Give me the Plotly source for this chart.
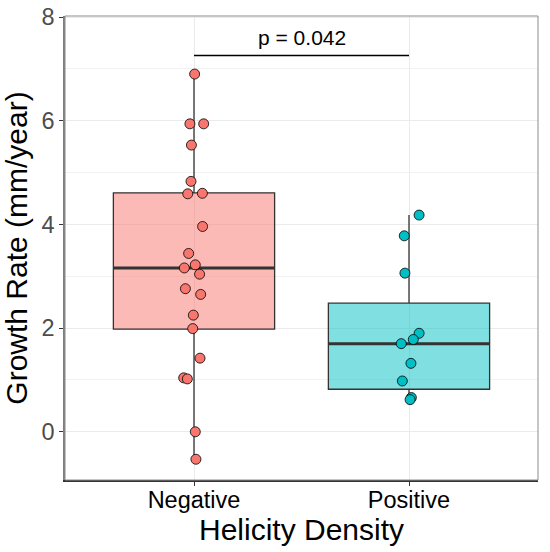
import plotly.graph_objects as go

groups = ["Negative", "Positive"]
group_pos = [1, 2]
fill_colors = ["rgba(248,118,109,0.5)", "rgba(0,191,196,0.5)"]
point_colors = ["#F8766D", "#00BFC4"]

# box statistics
q1 = [1.98, 0.82]
median = [3.16, 1.70]
q3 = [4.61, 2.48]
lower = [-0.53, 0.62]
upper = [6.90, 4.18]

# jittered points (value, horizontal jitter)
neg_values = [6.90, 5.94, 5.94, 5.53, 4.83, 4.59, 4.60, 3.96, 3.44, 3.16, 3.22,
              3.04, 2.76, 2.65, 2.25, 1.99, 1.42, 1.04, 1.02, 0.00, -0.53]
neg_jitter = [0.003, -0.019, 0.045, -0.012, -0.014, -0.029, 0.039, 0.040, -0.025, -0.045, 0.006,
              0.026, -0.040, 0.031, -0.003, -0.006, 0.028, -0.048, -0.031, 0.006, 0.009]
pos_values = [4.18, 3.78, 3.06, 1.90, 1.78, 1.70, 1.32, 0.98, 0.66, 0.62]
pos_jitter = [0.047, -0.022, -0.019, 0.047, 0.020, -0.036, 0.009, -0.031, 0.011, 0.005]

p_label = "p = 0.042"
p_bar_y = 7.26
p_text_y = 7.6

box_width = 0.75
font = "Arial, Liberation Sans, sans-serif"

fig = go.Figure()

for i, g in enumerate(groups):
    fig.add_trace(go.Box(
        x=[group_pos[i]], q1=[q1[i]], median=[median[i]], q3=[q3[i]],
        lowerfence=[lower[i]], upperfence=[upper[i]],
        width=box_width, whiskerwidth=0,
        fillcolor=fill_colors[i], line=dict(color="#333333", width=1.3),
        boxpoints=False, showlegend=False, hoverinfo="skip",
    ))
    # thicker median line like ggplot
    fig.add_trace(go.Scatter(
        x=[group_pos[i] - box_width / 2, group_pos[i] + box_width / 2],
        y=[median[i], median[i]], mode="lines",
        line=dict(color="#333333", width=3), showlegend=False, hoverinfo="skip",
    ))

for pos, vals, jit, col in [(group_pos[0], neg_values, neg_jitter, point_colors[0]),
                            (group_pos[1], pos_values, pos_jitter, point_colors[1])]:
    fig.add_trace(go.Scatter(
        x=[pos + j for j in jit], y=vals, mode="markers",
        marker=dict(size=10, color=col, line=dict(color="black", width=0.8)),
        showlegend=False,
    ))

# significance bracket
fig.add_shape(type="line", xref="x", yref="y", x0=group_pos[0], x1=group_pos[1],
              y0=p_bar_y, y1=p_bar_y, line=dict(color="black", width=1.5))
fig.add_annotation(x=(group_pos[0] + group_pos[1]) / 2, y=p_text_y, text=p_label,
                   showarrow=False, font=dict(size=21, color="black", family=font))

# panel border (top/right grey)
fig.add_shape(type="rect", xref="paper", yref="paper", x0=0, x1=1, y0=0, y1=1,
              line=dict(color="#8C8C8C", width=1), layer="above")

fig.update_layout(
    width=550, height=552,
    margin=dict(l=65, r=12, t=16, b=72),
    plot_bgcolor="white", paper_bgcolor="white",
    font=dict(family=font),
)
fig.update_xaxes(
    range=[0.4, 2.6], tickvals=group_pos, ticktext=groups, automargin=False,
    showgrid=True, gridcolor="#EBEBEB", gridwidth=1, zeroline=False,
    showline=True, linecolor="#333333", linewidth=2,
    ticks="outside", ticklen=4, tickcolor="#333333",
    tickfont=dict(size=23.5, color="black"), ticklabelstandoff=-6,
    title=dict(text="Helicity Density", font=dict(size=30, color="black"), standoff=0),
)
fig.update_yaxes(
    range=[-0.93, 8.02], tickvals=[0, 2, 4, 6, 8], automargin=False,
    showgrid=True, gridcolor="#EBEBEB", gridwidth=1, zeroline=False,
    minor=dict(dtick=1, showgrid=True, gridcolor="#F2F2F2", gridwidth=0.6),
    showline=True, linecolor="#7F7F7F", linewidth=1.5,
    ticks="outside", ticklen=4, tickcolor="#333333",
    tickfont=dict(size=23.5, color="#4D4D4D"),
    title=dict(text="Growth Rate (mm/year)", font=dict(size=30, color="black"), standoff=5),
)

# page body has a default margin; drop it so the figure sits at the window corner
fig.write_html("out.html", config={"displayModeBar": False},
               post_script="document.body.style.margin='0';")
